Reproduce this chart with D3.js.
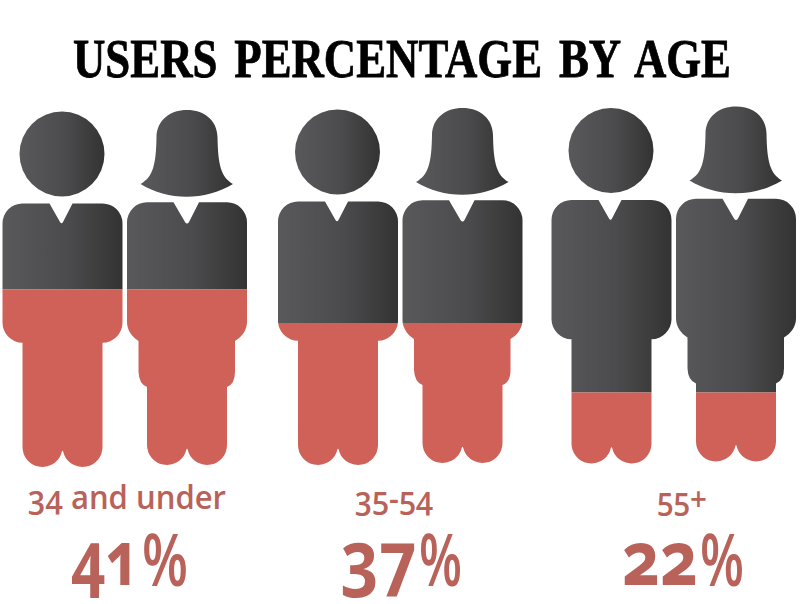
<!DOCTYPE html>
<html>
<head>
<meta charset="utf-8">
<script src="https://cdnjs.cloudflare.com/ajax/libs/d3/7.8.5/d3.min.js"></script>
<style>
  html, body { margin: 0; padding: 0; background: #fff; }
  text { font-variant-numeric: oldstyle-nums; }
</style>
</head>
<body>
<div id="chart"></div>
<script>
// values
var ageGroups = ["34 and under", "35-54", "55+"];
var userShares = [41, 37, 22];
// how far up the figure the red goes, as % of figure height
var fillLevels = [50, 40, 20];

var w = 800;
var h = 604;

// layout, separate from the data
var groupX = [0, 275.5, 549];
var groupY = [0, -2, -3.5];
var labelX = [127, 394, 682];
var labelW = [198, 78, 50];
var labelY = [508.5, 510, 511];
var digitX = [71, 341, 622];
var digitW = [69, 76, 76];
var pctX = [142, 419, 700];
var pctW = [46, 43, 44];

// figure height scale, in the coordinates of the first figure
var y = d3.scaleLinear().domain([0, 100]).range([467, 112]);

// silhouettes
var manBody = "M22.5,203.5H49.5L60,222Q61.5,224.5 63,222L72.5,203.5H102.5A20,20 0 0 1 122.5,223.5V322.7A20,20 0 0 1 102.5,342.7V447A20,20 0 0 1 64,454.6Q62.5,447 61,454.6A20,20 0 0 1 22.5,447V342.7A20,20 0 0 1 2.5,322.7V223.5A20,20 0 0 1 22.5,203.5Z";
var womanBody = "M147,202.3H173.5L185,222Q187,225 189,222L199,202.3H227A20,20 0 0 1 247,222.3V322C247,330 242,337 235,341V372Q235,384 227,387V445A20,20 0 0 1 188.5,452.6Q187,445 185.5,452.6A20,20 0 0 1 147,445V387Q139,384 138.5,372V341C132,337 127,330 127,322V222.3A20,20 0 0 1 147,202.3Z";
var womanHair = "M140.5,184C153,177 156,165 156.5,137C157,120 170,110 187,110C204,110 217,120 217.5,137C218,165 221,177 233,184C205,201 168,201 140.5,184Z";

var svg = d3.select("#chart")
    .append("svg")
    .attr("width", w)
    .attr("height", h)
    .style("display", "block");

var defs = svg.append("defs");

var grad = defs.append("linearGradient")
    .attr("id", "dark")
    .attr("x1", "0%").attr("x2", "100%")
    .attr("y1", "0%").attr("y2", "0%");
grad.append("stop").attr("offset", "0%").attr("stop-color", "#59595b");
grad.append("stop").attr("offset", "55%").attr("stop-color", "#4b4b4d");
grad.append("stop").attr("offset", "100%").attr("stop-color", "#333333");

// red part of each figure, and the dark part above it
defs.selectAll("clipPath.low")
    .data(fillLevels)
    .enter()
    .append("clipPath")
    .attr("class", "low")
    .attr("id", function(d, i){ return "low" + i; })
    .append("rect")
    .attr("x", 0)
    .attr("width", w)
    .attr("y", function(d){ return y(d); })
    .attr("height", function(d){ return y(0) - y(d) + 10; });

defs.selectAll("clipPath.high")
    .data(fillLevels)
    .enter()
    .append("clipPath")
    .attr("class", "high")
    .attr("id", function(d, i){ return "high" + i; })
    .append("rect")
    .attr("x", 0)
    .attr("width", w)
    .attr("y", y(100))
    .attr("height", function(d){ return y(d) - y(100); });

svg.append("text")
    .attr("x", 402)
    .attr("y", 77)
    .attr("text-anchor", "middle")
    .attr("textLength", 658)
    .attr("lengthAdjust", "spacingAndGlyphs")
    .attr("font-family", "Liberation Serif")
    .attr("font-weight", "bold")
    .attr("font-size", 55)
    .attr("word-spacing", 7)
    .attr("stroke", "#000")
    .attr("stroke-width", 0.8)
    .attr("fill", "#000")
    .text("USERS PERCENTAGE BY AGE");

var groups = svg.selectAll("g.group")
    .data(ageGroups)
    .enter()
    .append("g")
    .attr("class", "group")
    .attr("transform", function(d, i){ return "translate(" + groupX[i] + "," + groupY[i] + ")"; });

// man
groups.append("circle")
    .attr("cx", 62)
    .attr("cy", 154)
    .attr("r", 42.5)
    .attr("fill", "url(#dark)");
groups.append("path")
    .attr("d", manBody)
    .attr("fill", "url(#dark)")
    .attr("clip-path", function(d, i){ return "url(#high" + i + ")"; });
groups.append("path")
    .attr("d", manBody)
    .attr("fill", "#cf6159")
    .attr("clip-path", function(d, i){ return "url(#low" + i + ")"; });

// woman
groups.append("path")
    .attr("d", womanHair)
    .attr("fill", "url(#dark)");
groups.append("path")
    .attr("d", womanBody)
    .attr("fill", "url(#dark)")
    .attr("clip-path", function(d, i){ return "url(#high" + i + ")"; });
groups.append("path")
    .attr("d", womanBody)
    .attr("fill", "#cf6159")
    .attr("clip-path", function(d, i){ return "url(#low" + i + ")"; });

// labels
svg.selectAll("text.age")
    .data(ageGroups)
    .enter()
    .append("text")
    .attr("class", "age")
    .attr("x", function(d, i){ return labelX[i]; })
    .attr("y", function(d, i){ return labelY[i]; })
    .attr("text-anchor", "middle")
    .attr("textLength", function(d, i){ return labelW[i]; })
    .attr("lengthAdjust", "spacingAndGlyphs")
    .attr("font-family", "Open Sans")
    .attr("font-weight", 600)
    .attr("font-size", 32)
    .attr("fill", "#b8625a")
    .text(function(d){ return d; });

// digits and % are squeezed by different amounts
svg.selectAll("text.share")
    .data(userShares)
    .enter()
    .append("text")
    .attr("class", "share")
    .attr("x", function(d, i){ return digitX[i]; })
    .attr("y", 585)
    .attr("textLength", function(d, i){ return digitW[i]; })
    .attr("lengthAdjust", "spacingAndGlyphs")
    .attr("font-family", "Open Sans")
    .attr("font-weight", "bold")
    .attr("font-size", 76)
    .attr("fill", "#b8625a")
    .text(function(d){ return d; });

svg.selectAll("text.pct")
    .data(userShares)
    .enter()
    .append("text")
    .attr("class", "pct")
    .attr("x", function(d, i){ return pctX[i]; })
    .attr("y", 586)
    .attr("textLength", function(d, i){ return pctW[i]; })
    .attr("lengthAdjust", "spacingAndGlyphs")
    .attr("font-family", "Open Sans")
    .attr("font-weight", 600)
    .attr("font-size", 72)
    .attr("fill", "#b8625a")
    .text("%");
</script>
</body>
</html>
